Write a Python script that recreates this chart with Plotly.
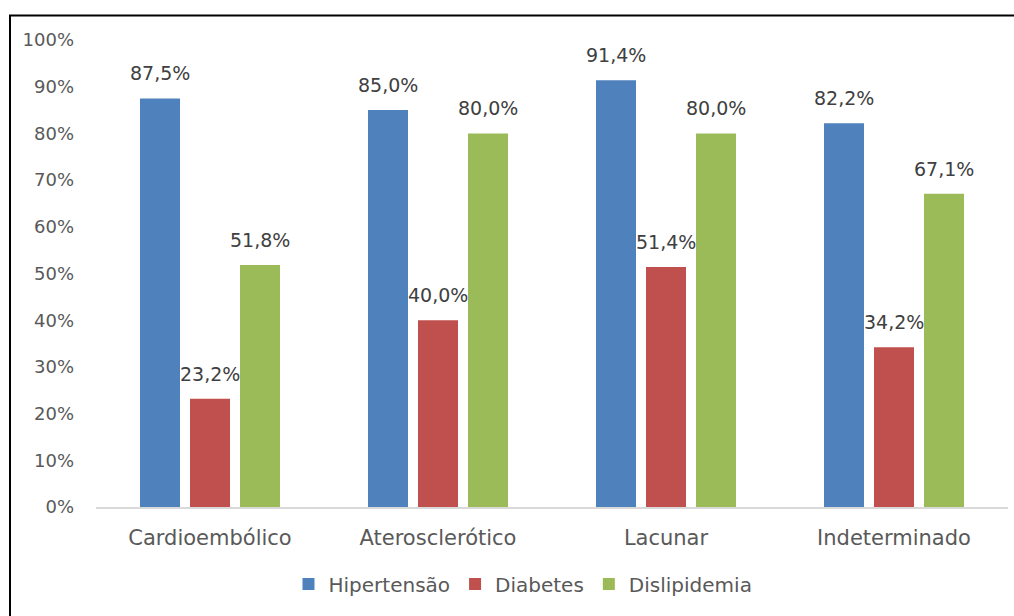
import plotly.graph_objects as go

# Prevalence of risk factors by stroke subtype (%)
categorias = ["Cardioembólico", "Aterosclerótico", "Lacunar", "Indeterminado"]
hipertensao = [87.5, 85.0, 91.4, 82.2]
diabetes = [23.2, 40.0, 51.4, 34.2]
dislipidemia = [51.8, 80.0, 80.0, 67.1]
y_ticks = [0, 10, 20, 30, 40, 50, 60, 70, 80, 90, 100]

series = [
    ("Hipertensão", hipertensao, "#4F81BD"),
    ("Diabetes", diabetes, "#C0504D"),
    ("Dislipidemia", dislipidemia, "#9BBB59"),
]

FONT = "DejaVu Sans"
W, H = 1014, 616
ML, MR, MT, MB = 96, 6, 40, 109
plot_w = W - ML - MR
plot_h = H - MT - MB

fig = go.Figure()
for nome, valores, cor in series:
    fig.add_trace(go.Bar(
        name=nome, x=categorias, y=valores,
        marker=dict(color=cor, line=dict(width=0)),
    ))

# value labels above each bar (shifted to its slot within the group)
slot = 50
for i, (nome, valores, cor) in enumerate(series):
    for cat, v in zip(categorias, valores):
        fig.add_annotation(
            x=cat, y=v, text=f"{v:.1f}%".replace(".", ","),
            xref="x", yref="y", showarrow=False,
            xshift=(i - 1) * slot, yshift=25, yanchor="middle",
            font=dict(family=FONT, size=19, color="#404040"),
        )

# outer frame
fig.add_shape(
    type="rect", xref="paper", yref="paper",
    x0=(10 - ML) / plot_w, x1=(W + 10 - ML) / plot_w,
    y0=-(H + 10 - MT - plot_h) / plot_h, y1=1 + (MT - 15.5) / plot_h,
    line=dict(color="#000000", width=2), fillcolor="rgba(0,0,0,0)", layer="above",
)

fig.update_layout(
    width=W, height=H,
    margin=dict(l=ML, r=MR, t=MT, b=MB),
    paper_bgcolor="white", plot_bgcolor="white",
    barmode="group", bargap=1 - 150 / 228, bargroupgap=0.2,
    separators=",.",
    font=dict(family=FONT, size=19, color="#595959"),
    showlegend=True,
    legend=dict(
        orientation="h", x=(523 - ML) / plot_w, xanchor="center",
        y=-77 / plot_h, yanchor="middle",
        font=dict(family=FONT, size=20, color="#595959"),
        itemwidth=30, traceorder="normal",
    ),
    xaxis=dict(
        showline=True, linecolor="#D9D9D9", linewidth=2, showgrid=False,
        ticks="", ticklabelstandoff=11, zeroline=False,
        tickfont=dict(family=FONT, size=21, color="#595959"),
    ),
    yaxis=dict(
        range=[0, 100], tickvals=y_ticks, ticktext=[f"{t}%" for t in y_ticks],
        showgrid=False, zeroline=False, showline=False, ticks="",
        ticklabelstandoff=21,
        tickfont=dict(family=FONT, size=18, color="#595959"),
    ),
)

fig.write_html("out.html")
